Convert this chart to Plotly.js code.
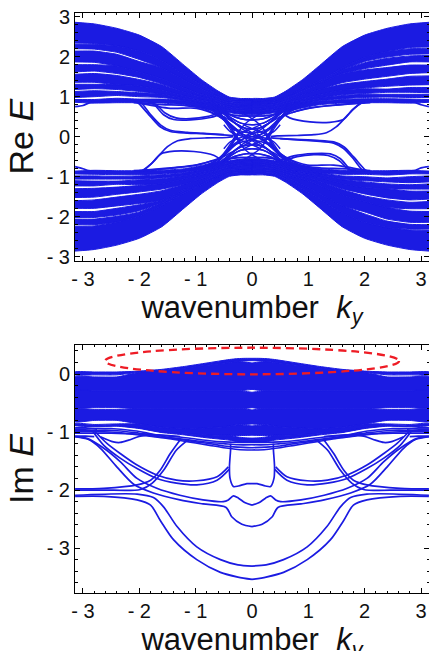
<!DOCTYPE html>
<html><head><meta charset="utf-8">
<script src="https://cdn.plot.ly/plotly-3.0.1.min.js"></script>
<style>html,body{margin:0;padding:0;background:#fff;overflow:hidden;height:651px}#c{width:430px;height:665px}</style>
</head><body><div id="c"></div>
<script>
// ---------- Values ----------
const BLUE = '#1b1be2';
const tickVals = [-3,-2,-1,0,1,2,3];
const tickText = ['- 3','- 2','- 1','0','1','2','3'];
const imTickVals = [-3,-2,-1,0];
const imTickText = ['- 3','- 2','- 1','0'];

// |k| grid for the Re E band clusters
const kA = [3.1416,2.8,2.4,2,1.6,1.2,.9,.6,.4,.2,0];
const reEnv = [2.86,2.82,2.71,2.54,2.25,1.78,1.43,1.14,.99,.955,.95];

// upper band, k<0 side: cluster [top, bottom]
const ulClusters = [
 [reEnv,[2.34,2.33,2.27,2.14,1.9,1.55,1.3,1.05,.93,.92,.92]],
 [[2.31,2.31,2.27,2.14,1.9,1.55,1.3,1.05,.93,.92,.92],[2.2,2.19,2.11,1.93,1.72,1.42,1.2,1.0,.9,.88,.88]],
 [[2.14,2.14,2.06,1.88,1.72,1.42,1.2,1.0,.9,.88,.88],[1.87,1.86,1.77,1.62,1.45,1.22,1.06,.93,.85,.83,.82]],
 [[1.8,1.8,1.77,1.62,1.45,1.22,1.06,.93,.85,.83,.82],[1.62,1.64,1.58,1.48,1.32,1.12,.99,.88,.8,.77,.76]],
 [[1.56,1.58,1.53,1.43,1.3,1.12,.99,.88,.8,.77,.76],[1.36,1.36,1.3,1.27,1.17,1.02,.92,.83,.75,.7,.7]],
 [[1.31,1.31,1.3,1.27,1.17,1.02,.92,.83,.75,.7,.7],[1.18,1.2,1.18,1.13,1.07,.96,.88,.79,.7,.65,.64]],
 [[1.13,1.15,1.13,1.1,1.07,.96,.88,.79,.7,.65,.64],[.98,1,1.03,1,.98,.9,.82,.72,.66,.6,.58]],
 [[.93,.93,.96,.94,.94,.9,.82,.72,.66,.6,.58],[.86,.84,.85,.85,.84,.8,.72,.62,.6,.56,.55]]
];
// upper band, k>0 side
const urClusters = [
 [reEnv,[2.24,2.23,2.13,1.98,1.72,1.4,1.2,1.0,.9,.88,.88]],
 [[2.2,2.2,2.13,1.98,1.72,1.4,1.2,1.0,.9,.88,.88],[2.07,2.06,1.99,1.88,1.66,1.35,1.17,.98,.88,.86,.86]],
 [[2.03,2.02,1.96,1.85,1.66,1.35,1.17,.98,.88,.86,.86],[1.87,1.87,1.79,1.7,1.58,1.32,1.15,.96,.87,.84,.84]],
 [[1.79,1.79,1.73,1.67,1.58,1.32,1.15,.96,.87,.84,.84],[1.6,1.58,1.51,1.44,1.35,1.18,1.05,.9,.82,.8,.78]],
 [[1.52,1.51,1.44,1.38,1.31,1.18,1.05,.9,.82,.8,.78],[1.3,1.29,1.26,1.22,1.17,1.05,.95,.84,.76,.72,.7]],
 [[1.23,1.23,1.19,1.2,1.17,1.05,.95,.84,.76,.72,.7],[1.1,1.11,1.11,1.08,1.05,.97,.88,.78,.7,.66,.64]],
 [[1.06,1.06,1.06,1.06,1.03,.97,.88,.78,.7,.66,.64],[.98,.98,.99,.98,.95,.9,.82,.72,.66,.6,.58]],
 [[.93,.94,.95,.95,.93,.89,.82,.72,.66,.6,.58],[.86,.84,.85,.85,.84,.8,.72,.62,.6,.56,.55]]
];
// single Re E curves, each also appears turned through the origin
const reEdgeLines = [
 [[-3.14,-3,-2.9,-2.7],[.75,.78,.84,.87]],
 [[3.14,3,2.9,2.7],[.75,.8,.85,.87]],
 [[-2.05,-2.01,-1.8,-1.63,-1.45,-1.15,-.87,-.45,-.33],[.86,.83,.5,.25,.13,.09,.075,.04,.03]],
 [[-2.0,-1.95,-1.78,-1.62,-1.45,-1.15,-.87,-.5],[.86,.82,.52,.29,.16,.11,.085,.05]],
 [[-1.8,-1.75,-1.57,-1.39,-1.09,-.74,-.45],[.86,.83,.55,.43,.42,.48,.62]],
 [[-1.85,-1.7,-1.55,-1.35,-1.1,-.8,-.5],[.86,.8,.6,.47,.45,.5,.65]],
 [[-2.0,-1.45,-.98,-.63,-.33,-.21,-.09],[.84,.71,.71,.54,.25,.08,-.08]],
 [[-2.1,-1.6,-1.2,-.85,-.5,-.3],[.85,.8,.78,.7,.42,.15]],
 [[.33,.45,.8,1.1,1.32,1.5,1.65,1.79,1.94,2.0],[.0,.02,.03,.05,.1,.25,.47,.68,.85,.88]],
 [[.55,.67,1.03,1.38,1.62,1.79,1.95,2.0],[.58,.47,.37,.36,.43,.68,.85,.88]],
 [[.7,1.03,1.38,1.7,2.1],[.6,.72,.78,.82,.85]],
 [[.6,.9,1.2,1.6,2.0],[.55,.68,.75,.8,.85]]
];
// centre curves, each drawn in all four quadrant reflections
const reCross = [
 [[-.95,-.7,-.5,-.33,-.2,-.1,0,.1,.2,.35,.55,.8],[.86,.66,.47,.25,.1,0,-.06,-.13,-.22,-.4,-.62,-.85]],
 [[-.85,-.6,-.42,-.33,-.27,-.2,-.1,0,.12,.25],[.85,.62,.35,.1,-.05,-.2,-.35,-.45,-.55,-.65]],
 [[-.8,-.55,-.4,-.25,-.1,0],[.85,.55,.28,.12,.03,0]],
 [[-.7,-.5,-.35,-.2,0,.2,.35,.5,.7],[.85,.62,.45,.34,.3,.34,.45,.62,.85]],
 [[-.7,-.48,-.32,-.18,0,.18,.32,.48,.7],[.8,.55,.36,.24,.2,.24,.36,.55,.8]],
 [[-.6,-.4,-.2,0,.2,.4,.6],[.72,.56,.52,.52,.52,.56,.72]],
 [[-.6,-.4,-.2,0,.2,.4,.6],[.78,.55,.45,.42,.45,.55,.78]],
 [[-.5,-.38,-.25,-.12,0,.12,.25,.38,.5],[.3,.12,.05,-.02,-.1,-.2,-.3,-.4,-.5]],
 [[-1.05,-.8,-.6,-.45,-.3,-.15,0],[.86,.72,.55,.36,.2,.12,.09]],
 [[-.9,-.72,-.55,-.42,-.34,-.28,-.22],[.8,.68,.5,.32,.16,.03,-.1]],
 [[-.65,-.5,-.4,-.3,-.15,0,.15],[.7,.42,.22,.0,-.12,-.2,-.3]]
];

// Im E dense layers on a |k| grid (mirrored in k): [top, bottom]
const kL = [0,.12,.25,.4,.8,1.2,1.6,2,2.4,2.8,3.1416];
const imLayers = [
 [[.27,.27,.265,.25,.19,.13,.08,.05,.035,.035,.035],[.23,.225,.215,.2,.15,.1,.06,.03,-.015,-.015,-.015]],
 [[.19,.205,.215,.2,.15,.1,.06,.03,-.05,-.05,-.05],[-.265,-.28,-.29,-.29,-.29,-.29,-.29,-.29,-.29,-.29,-.29]],
 [[-.315,-.3,-.29,-.29,-.29,-.29,-.29,-.29,-.29,-.29,-.29],[-.58,-.595,-.6,-.6,-.6,-.6,-.6,-.6,-.58,-.58,-.58]],
 [[-.62,-.605,-.6,-.6,-.6,-.6,-.6,-.6,-.61,-.61,-.61],[-.86,-.87,-.87,-.9,-.93,-.95,-.92,-.86,-.8,-.8,-.82]],
 [[-.895,-.885,-.875,-.9,-.93,-.95,-.92,-.86,-.86,-.87,-.85],[-1.055,-1.06,-1.06,-1.06,-1.05,-1.03,-1,-.93,-.89,-.9,-.88]],
 [[-1.105,-1.1,-1.085,-1.06,-1.05,-1.03,-1,-.93,-.89,-.9,-.88],[-1.17,-1.17,-1.17,-1.14,-1.1,-1.05,-1.01,-.94,-.9,-.91,-.89]]
];
// Im E lower edge of the dense band, mirrored in k
const kH = [0,.25,.5,.75,1,1.25,1.5,1.75,2,2.25,2.5,2.75,3,3.1416];
const imBandLines = [
 [-1.18,-1.18,-1.17,-1.15,-1.12,-1.09,-1.07,-1.04,-.99,-.96,-.94,-.94,-.95,-.95],
 [-1.22,-1.22,-1.2,-1.18,-1.15,-1.12,-1.09,-1.05,-1.02,-.99,-.97,-.97,-.98,-.98],
 [-1.27,-1.26,-1.24,-1.2,-1.17,-1.13,-1.1,-1.07,-1.04,-1.02,-1,-.99,-.99,-.99],
 [-1.31,-1.3,-1.27,-1.23,-1.19,-1.15,-1.11,-1.08,-1.05,-1.03,-1.02,-1.02,-1.02,-1.02]
];
// Im E isolated curves, k<0 side, mirrored in k
const imCurves = [
 [[-3.14,-2.63,-2.04,-1.8,-1.63,-1.39,-.98,-.56,-.25,0],[-2.11,-2.11,-2.17,-2.26,-2.52,-2.86,-3.2,-3.42,-3.5,-3.54]],
 [[-3.14,-2.04,-1.75,-1.57,-1.33,-.98,-.56,-.25,0],[-2.09,-2.07,-2.13,-2.29,-2.63,-2.98,-3.2,-3.29,-3.31]],
 [[-3.14,-2.93,-2.63,-2.34,-2.04,-1.69,-1.28,-.87,-.51,-.42,-.33,-.24,-.12,0],[-1.08,-1.11,-1.28,-1.51,-1.8,-1.97,-2.09,-2.17,-2.2,-2.17,-2.1,-2.14,-2.22,-2.26]],
 [[-3.14,-2.9,-2.69,-2.4,-2.1,-1.75,-1.28,-.87,-.46,-.36,-.18,0],[-1.08,-1.13,-1.28,-1.6,-1.9,-2.05,-2.17,-2.24,-2.3,-2.46,-2.59,-2.63]],
 [[-2.78,-2.57,-2.34,-2.04,-1.69,-1.34,-.98,-.62,-.42],[-1,-1.2,-1.37,-1.57,-1.74,-1.83,-1.84,-1.77,-1.6]],
 [[-2.84,-2.63,-2.34,-2.04,-1.69,-1.34,-.98,-.62,-.4],[-.97,-1.23,-1.45,-1.63,-1.8,-1.88,-1.91,-1.83,-1.64]],
 [[-.38,-.38,-.4,-.39,-.33,-.24,-.09,0],[-1.2,-1.3,-1.6,-1.8,-1.94,-1.93,-1.89,-1.89]],
 [[-3.14,-2.63,-2.04,-1.8,-1.63,-1.45,-1.28],[-1.98,-1.97,-1.91,-1.83,-1.66,-1.37,-1.14]],
 [[-3.14,-2.63,-1.98,-1.77,-1.57,-1.34,-1.13],[-2,-2,-1.99,-1.88,-1.66,-1.31,-1.13]],
 [[-2.69,-2.46,-2.34,-2.19,-1.98,-1.69,-1.28],[-1.08,-1.17,-1.18,-1.14,-1.07,-1.05,-1.08]],
 [[-3.14,-2.95,-2.8],[-1.07,-1.07,-1.08]],
 [[-3.14,-2.95,-2.75],[-.93,-.93,-.95]]
];
// red dashed ellipse corners on the Im E axes
const ellipseK = [-2.61,2.61];
const ellipseE = [-.005,.453];

// ---------- Traces ----------
const traces = [];
function poly(k,hi,lo,sk,sE,ax){
  const x=[],y=[];
  k.forEach((v,i)=>{x.push(sk*v);y.push(sE*hi[i]);});
  for(let i=k.length-1;i>=0;i--){x.push(sk*k[i]);y.push(sE*lo[i]);}
  traces.push({type:'scatter',mode:'lines',x,y,fill:'toself',fillcolor:BLUE,
    line:{color:BLUE,width:1,shape:'spline',smoothing:.5},xaxis:ax[0],yaxis:ax[1],hoverinfo:'skip',showlegend:false});
}
function curve(k,e,sk,sE,ax,w){
  traces.push({type:'scatter',mode:'lines',x:k.map(v=>sk*v),y:e.map(v=>sE*v),
    line:{color:BLUE,width:w||1.7,shape:'spline',smoothing:.8},xaxis:ax[0],yaxis:ax[1],hoverinfo:'skip',showlegend:false});
}
const axT=['x','y'], axB=['x2','y2'];
ulClusters.forEach(c=>{poly(kA,c[0],c[1],-1,1,axT);poly(kA,c[0],c[1],1,-1,axT);});
urClusters.forEach(c=>{poly(kA,c[0],c[1],1,1,axT);poly(kA,c[0],c[1],-1,-1,axT);});
reEdgeLines.forEach(l=>{curve(l[0],l[1],1,1,axT);curve(l[0],l[1],-1,-1,axT);});
reCross.forEach(l=>{curve(l[0],l[1],1,1,axT,1.5);curve(l[0],l[1],-1,1,axT,1.5);curve(l[0],l[1],1,-1,axT,1.5);curve(l[0],l[1],-1,-1,axT,1.5);});
imLayers.forEach(c=>{poly(kL,c[0],c[1],-1,1,axB);poly(kL,c[0],c[1],1,1,axB);});
imBandLines.forEach(e=>{curve(kH,e,-1,1,axB,1.6);curve(kH,e,1,1,axB,1.6);});
imCurves.forEach(l=>{curve(l[0],l[1],1,1,axB);curve(l[0],l[1],-1,1,axB);});

// ---------- Layout ----------
const FONT='Liberation Sans, Arial, sans-serif';
function xax(anchor){return {anchor,domain:[0,1],range:[-3.1416,3.1416],tickmode:'array',tickvals:tickVals,ticktext:tickText,
  ticks:'inside',ticklen:5,tickwidth:1,tickcolor:'#000',mirror:'allticks',showline:true,linecolor:'#000',linewidth:1,
  showgrid:false,zeroline:false,tickfont:{family:FONT,size:20,color:'#111'},
  minor:{dtick:.2,tick0:0,ticks:'inside',ticklen:2.5,tickcolor:'#000',showgrid:false},
  title:{text:'wavenumber  <i>k</i><sub><i>y</i></sub>',font:{family:FONT,size:31,color:'#111'},standoff:1}};}
function yax(anchor,dom,rng,vals,txt,t){return {anchor,domain:dom,range:rng,tickmode:'array',tickvals:vals,ticktext:txt,
  ticks:'inside',ticklen:5,tickwidth:1,tickcolor:'#000',mirror:'allticks',showline:true,linecolor:'#000',linewidth:1,
  showgrid:false,zeroline:false,tickfont:{family:FONT,size:20,color:'#111'},
  minor:{dtick:.2,tick0:0,ticks:'inside',ticklen:2.5,tickcolor:'#000',showgrid:false},
  title:{text:t,font:{family:FONT,size:34,color:'#111'},standoff:2}};}
const layout={width:430,height:665,margin:{l:74.5,r:.5,t:0,b:0},paper_bgcolor:'#fff',plot_bgcolor:'#fff',showlegend:false,
  xaxis:xax('y'),xaxis2:xax('y2'),
  yaxis:yax('x',[.60797,.9809],[-3.1,3.1],tickVals,tickText,'Re <i>E</i>'),
  yaxis2:yax('x2',[.10782,.48165],[-3.78,.505],imTickVals,imTickText,'Im <i>E</i>'),
  shapes:[{type:'circle',xref:'x2',yref:'y2',x0:ellipseK[0],x1:ellipseK[1],y0:ellipseE[0],y1:ellipseE[1],
    line:{color:'#ee1c25',width:2.3,dash:'8px,5px'},layer:'above'}]};
Plotly.newPlot('c',traces,layout,{staticPlot:true,displayModeBar:false});
</script></body></html>
